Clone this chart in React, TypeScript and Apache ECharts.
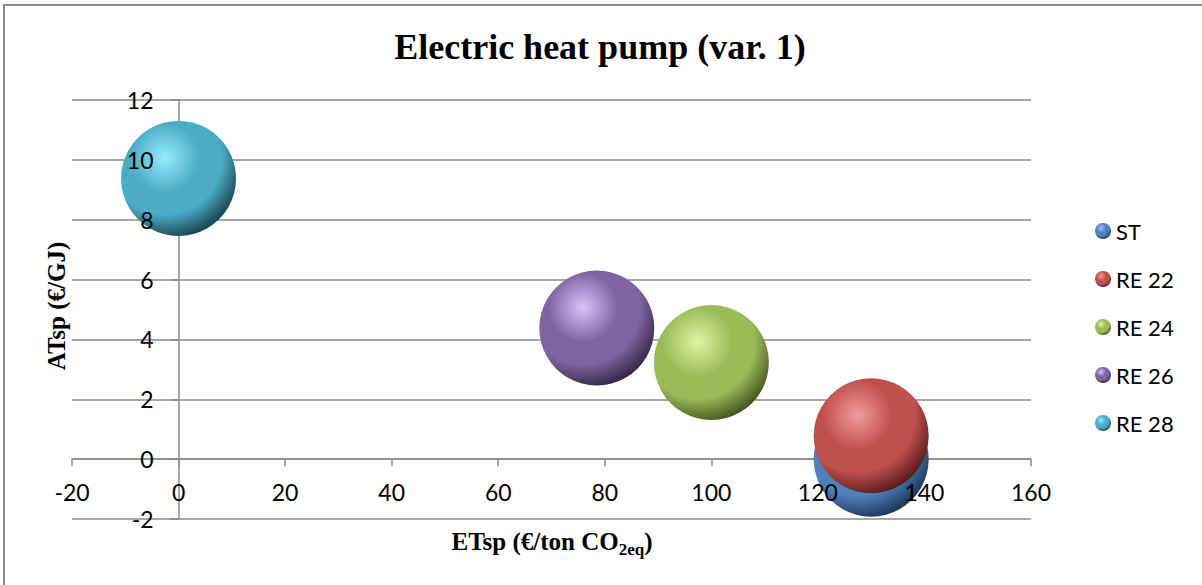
import { useEffect, useRef } from "react";
import * as echarts from "echarts";

// Scenario names and their coordinates (ETsp on x, ATsp on y)
const seriesNames = ["ST", "RE 22", "RE 24", "RE 26", "RE 28"];
const etspValues = [130, 130, 100, 78.5, 0];
const atspValues = [0, 0.78, 3.23, 4.38, 9.38];
const bubbleSizes = [1, 1, 1, 1, 1];

// Axis ranges
const xRange = { min: -20, max: 160, interval: 20 };
const yRange = { min: -2, max: 12, interval: 2 };

// Sphere shading: highlight, body, shadow
const baseColors = ["#4F81BD", "#C0504D", "#9BBB59", "#8064A2", "#4BACC6"];
const lightColors = ["#A3C4F2", "#F29C99", "#E0F5A0", "#D9C2FA", "#96ECFC"];
const darkColors = ["#1E3858", "#5A1D1B", "#47591F", "#362849", "#1B4653"];

const BUBBLE_DIAMETER = 115;
const GRID_COLOR = "#8a8a8a";
const LABEL_FONT = "Lato";
const SERIF = "'Liberation Serif', 'Times New Roman', serif";

const WIDTH = 1202;
const HEIGHT = 585;
const GRID = { left: 72, right: 171, top: 100, bottom: 66 };

function sphere(i: number) {
  return new echarts.graphic.RadialGradient(0.38, 0.32, 0.8, [
    { offset: 0, color: lightColors[i] },
    { offset: 0.38, color: baseColors[i] },
    { offset: 0.62, color: baseColors[i] },
    { offset: 0.88, color: darkColors[i] },
    { offset: 1, color: darkColors[i] },
  ]);
}

export default function App() {
  const ref = useRef<HTMLDivElement>(null);

  useEffect(() => {
    document.body.style.margin = "0";
    const chart = echarts.init(ref.current!, null, { renderer: "svg" });

    const axisLineStyle = { color: GRID_COLOR, width: 1.5 };

    // The tick-label axes sit where the other axis is zero; they are shifted
    // from the grid edge by the pixel distance of that zero.
    const plotW = WIDTH - GRID.left - GRID.right;
    const plotH = HEIGHT - GRID.top - GRID.bottom;
    const xLabelOffset = -((0 - yRange.min) / (yRange.max - yRange.min)) * plotH;
    const yLabelOffset = -((0 - xRange.min) / (xRange.max - xRange.min)) * plotW;

    chart.setOption({
      animation: false,
      backgroundColor: "#ffffff",
      grid: GRID,
      legend: {
        data: seriesNames,
        orient: "vertical",
        left: 1090,
        top: 215,
        itemWidth: 16,
        itemHeight: 16,
        itemGap: 26,
        icon: "circle",
        textStyle: { fontFamily: LABEL_FONT, fontSize: 22, color: "#000" },
      },
      xAxis: [
        {
          // tick labels, drawn above the bubbles
          type: "value",
          position: "bottom",
          offset: xLabelOffset,
          min: xRange.min,
          max: xRange.max,
          interval: xRange.interval,
          axisLine: { show: false, onZero: false },
          axisTick: { show: false },
          splitLine: { show: false },
          axisLabel: {
            margin: 21,
            fontFamily: LABEL_FONT,
            fontSize: 23,
            color: "#000",
          },
          z: 10,
        },
        {
          // axis line and ticks, drawn below the bubbles
          type: "value",
          position: "bottom",
          min: xRange.min,
          max: xRange.max,
          interval: xRange.interval,
          axisLine: {
            show: true,
            onZero: true,
            onZeroAxisIndex: 1,
            lineStyle: axisLineStyle,
          },
          axisTick: { show: true, length: 7, lineStyle: axisLineStyle },
          axisLabel: { show: false },
          splitLine: { show: false },
          z: 0,
        },
      ],
      yAxis: [
        {
          type: "value",
          position: "left",
          offset: yLabelOffset,
          min: yRange.min,
          max: yRange.max,
          interval: yRange.interval,
          axisLine: { show: false, onZero: false },
          axisTick: { show: false },
          splitLine: { show: false },
          axisLabel: {
            margin: 25,
            fontFamily: LABEL_FONT,
            fontSize: 23,
            color: "#000",
          },
          z: 10,
        },
        {
          type: "value",
          position: "left",
          min: yRange.min,
          max: yRange.max,
          interval: yRange.interval,
          axisLine: {
            show: true,
            onZero: true,
            onZeroAxisIndex: 1,
            lineStyle: axisLineStyle,
          },
          axisTick: { show: true, length: 8, lineStyle: axisLineStyle },
          axisLabel: { show: false },
          splitLine: { show: true, lineStyle: axisLineStyle },
          z: 0,
        },
      ],
      series: seriesNames.map((name, i) => ({
        type: "scatter",
        name,
        xAxisIndex: 0,
        yAxisIndex: 0,
        data: [[etspValues[i], atspValues[i], bubbleSizes[i]]],
        symbolSize: (v: number[]) => v[2] * BUBBLE_DIAMETER,
        itemStyle: { color: sphere(i), opacity: 1 },
        emphasis: { disabled: true },
        z: 2,
      })),
      graphic: [
        {
          type: "rect",
          shape: { x: 4, y: 5, width: 1400, height: 800 },
          style: { fill: "none", stroke: "#8a8a8a", lineWidth: 2 },
          silent: true,
          z: 0,
        },
        {
          type: "text",
          x: 600,
          y: 47,
          style: {
            text: "Electric heat pump (var. 1)",
            fontFamily: SERIF,
            fontWeight: "bold",
            fontSize: 36,
            fill: "#000",
            textAlign: "center",
            textVerticalAlign: "middle",
          },
        },
        {
          type: "text",
          x: 56,
          y: 306,
          rotation: Math.PI / 2,
          style: {
            text: "ATsp (€/GJ)",
            fontFamily: SERIF,
            fontWeight: "bold",
            fontSize: 25,
            fill: "#000",
            textAlign: "center",
            textVerticalAlign: "middle",
          },
        },
        {
          type: "text",
          x: 552,
          y: 541,
          style: {
            text: "ETsp (€/ton CO{sub|2eq})",
            fontFamily: SERIF,
            fontWeight: "bold",
            fontSize: 25,
            lineHeight: 34,
            fill: "#000",
            textAlign: "center",
            textVerticalAlign: "middle",
            rich: {
              sub: {
                fontFamily: SERIF,
                fontWeight: "bold",
                fontSize: 17,
                lineHeight: 17,
                verticalAlign: "bottom",
                fill: "#000",
              },
            },
          },
        },
      ],
    });

    return () => chart.dispose();
  }, []);

  return <div ref={ref} style={{ width: WIDTH, height: HEIGHT }} />;
}
